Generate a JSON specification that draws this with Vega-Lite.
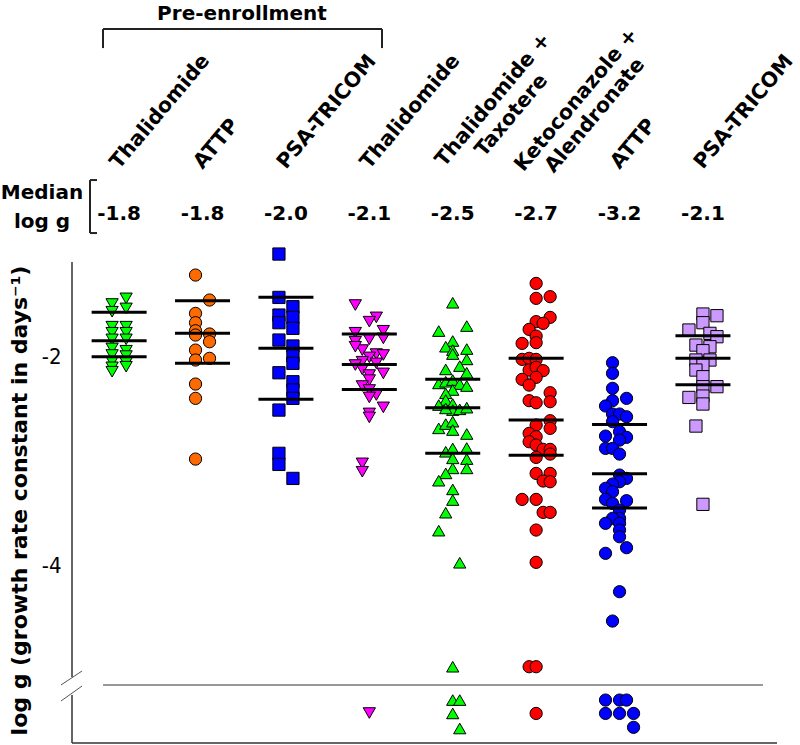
{
"$schema":"https://vega.github.io/schema/vega-lite/v6.json",
"width":705,"height":745,
"autosize":{"type":"none"},
"padding":{"left":72,"top":0,"right":23,"bottom":0},
"background":"white",
"config":{"view":{"stroke":null},"font":"DejaVu Sans"},
"resolve":{"axis":{"x":"independent","y":"independent"}},
"datasets":{
"one":[{}],
"groups":[
{"g":1,"label":"Thalidomide","med":"-1.8"},
{"g":2,"label":"ATTP","med":"-1.8"},
{"g":3,"label":"PSA-TRICOM","med":"-2.0"},
{"g":4,"label":"Thalidomide","med":"-2.1"},
{"g":5,"label":["Thalidomide +","Taxotere"],"med":"-2.5"},
{"g":6,"label":["Ketoconazole +","Alendronate"],"med":"-2.7"},
{"g":7,"label":"ATTP","med":"-3.2"},
{"g":8,"label":"PSA-TRICOM","med":"-2.1"}
],
"lines":[
{"g":1,"v":-1.582},{"g":1,"v":-1.853},{"g":1,"v":-2.006},
{"g":2,"v":-1.471},{"g":2,"v":-1.783},{"g":2,"v":-2.070},
{"g":3,"v":-1.438},{"g":3,"v":-1.926},{"g":3,"v":-2.414},
{"g":4,"v":-1.789},{"g":4,"v":-2.080},{"g":4,"v":-2.319},
{"g":5,"v":-2.223},{"g":5,"v":-2.494},{"g":5,"v":-2.931},
{"g":6,"v":-2.022},{"g":6,"v":-2.612},{"g":6,"v":-2.950},
{"g":7,"v":-2.654},{"g":7,"v":-3.126},{"g":7,"v":-3.455},
{"g":8,"v":-1.806},{"g":8,"v":-2.022},{"g":8,"v":-2.275}
],
"points":[
{"g":1,"s":-1,"v":-1.502},{"g":1,"s":-1,"v":-1.576},{"g":1,"s":-1,"v":-1.719},{"g":1,"s":-1,"v":-1.777},{"g":1,"s":-1,"v":-1.840},{"g":1,"s":-1,"v":-1.927},{"g":1,"s":-1,"v":-1.990},{"g":1,"s":-1,"v":-2.054},{"g":1,"s":-1,"v":-2.108},{"g":1,"s":-1,"v":-2.150},
{"g":1,"s":1,"v":-1.448},{"g":1,"s":1,"v":-1.544},{"g":1,"s":1,"v":-1.719},{"g":1,"s":1,"v":-1.777},{"g":1,"s":1,"v":-1.840},{"g":1,"s":1,"v":-1.949},{"g":1,"s":1,"v":-2.000},{"g":1,"s":1,"v":-2.064},{"g":1,"s":1,"v":-2.102},
{"g":2,"s":-1,"v":-1.225},{"g":2,"s":-1,"v":-1.592},{"g":2,"s":-1,"v":-1.681},{"g":2,"s":-1,"v":-1.758},{"g":2,"s":-1,"v":-1.799},{"g":2,"s":-1,"v":-1.943},{"g":2,"s":-1,"v":-2.038},{"g":2,"s":-1,"v":-2.268},{"g":2,"s":-1,"v":-2.405},{"g":2,"s":-1,"v":-2.986},
{"g":2,"s":1,"v":-1.464},{"g":2,"s":1,"v":-1.789},{"g":2,"s":1,"v":-1.863},{"g":2,"s":1,"v":-2.022},
{"g":3,"s":-1,"v":-1.024},{"g":3,"s":-1,"v":-1.439},{"g":3,"s":-1,"v":-1.608},{"g":3,"s":-1,"v":-1.681},{"g":3,"s":-1,"v":-1.847},{"g":3,"s":-1,"v":-2.160},{"g":3,"s":-1,"v":-2.517},{"g":3,"s":-1,"v":-2.931},{"g":3,"s":-1,"v":-3.037},
{"g":3,"s":1,"v":-1.528},{"g":3,"s":1,"v":-1.630},{"g":3,"s":1,"v":-1.735},{"g":3,"s":1,"v":-1.904},{"g":3,"s":1,"v":-2.000},{"g":3,"s":1,"v":-2.070},{"g":3,"s":1,"v":-2.246},{"g":3,"s":1,"v":-2.325},{"g":3,"s":1,"v":-2.405},{"g":3,"s":1,"v":-3.171},
{"g":4,"s":-2,"v":-1.512},{"g":4,"s":1,"v":-1.630},{"g":4,"s":0,"v":-1.671},{"g":4,"s":2,"v":-1.758},{"g":4,"s":-2,"v":-1.777},{"g":4,"s":0,"v":-1.840},{"g":4,"s":-2,"v":-1.863},{"g":4,"s":2,"v":-1.831},{"g":4,"s":-1,"v":-1.943},{"g":4,"s":-2,"v":-1.911},{"g":4,"s":1,"v":-1.981},{"g":4,"s":2,"v":-1.990},{"g":4,"s":0,"v":-2.013},{"g":4,"s":-1,"v":-2.054},{"g":4,"s":-2,"v":-2.086},{"g":4,"s":1,"v":-2.070},{"g":4,"s":-1,"v":-2.128},{"g":4,"s":0,"v":-2.182},{"g":4,"s":2,"v":-2.166},{"g":4,"s":0,"v":-2.230},{"g":4,"s":-1,"v":-2.287},{"g":4,"s":0,"v":-2.325},{"g":4,"s":1,"v":-2.373},{"g":4,"s":0,"v":-2.396},{"g":4,"s":2,"v":-2.491},{"g":4,"s":0,"v":-2.549},{"g":4,"s":0,"v":-2.587},{"g":4,"s":-1,"v":-3.027},{"g":4,"s":-1,"v":-3.107},{"g":4,"s":0,"v":-5.416},
{"g":5,"s":0,"v":-1.490},{"g":5,"s":-2,"v":-1.761},{"g":5,"s":2,"v":-1.713},{"g":5,"s":0,"v":-1.856},{"g":5,"s":-1,"v":-1.911},{"g":5,"s":0,"v":-1.943},{"g":5,"s":2,"v":-1.933},{"g":5,"s":0,"v":-1.981},{"g":5,"s":2,"v":-2.032},{"g":5,"s":1,"v":-2.096},{"g":5,"s":-1,"v":-2.128},{"g":5,"s":2,"v":-2.160},{"g":5,"s":-2,"v":-2.262},{"g":5,"s":-1,"v":-2.246},{"g":5,"s":0,"v":-2.230},{"g":5,"s":1,"v":-2.268},{"g":5,"s":2,"v":-2.287},{"g":5,"s":0,"v":-2.325},{"g":5,"s":-1,"v":-2.357},{"g":5,"s":-1,"v":-2.421},{"g":5,"s":-2,"v":-2.469},{"g":5,"s":0,"v":-2.459},{"g":5,"s":0,"v":-2.517},{"g":5,"s":1,"v":-2.510},{"g":5,"s":2,"v":-2.494},{"g":5,"s":-1,"v":-2.501},{"g":5,"s":-2,"v":-2.692},{"g":5,"s":-1,"v":-2.651},{"g":5,"s":0,"v":-2.628},{"g":5,"s":0,"v":-2.708},{"g":5,"s":2,"v":-2.746},{"g":5,"s":-1,"v":-2.916},{"g":5,"s":0,"v":-2.884},{"g":5,"s":2,"v":-2.880},{"g":5,"s":0,"v":-2.979},{"g":5,"s":2,"v":-2.986},{"g":5,"s":0,"v":-3.075},{"g":5,"s":2,"v":-3.075},{"g":5,"s":-1,"v":-3.123},{"g":5,"s":-2,"v":-3.193},{"g":5,"s":0,"v":-3.276},{"g":5,"s":0,"v":-3.378},{"g":5,"s":-1,"v":-3.499},{"g":5,"s":-2,"v":-3.671},{"g":5,"s":1,"v":-3.978},{"g":5,"s":0,"v":-4.973},{"g":5,"s":0,"v":-5.292},{"g":5,"s":1,"v":-5.292},{"g":5,"s":0,"v":-5.420},{"g":5,"s":1,"v":-5.564},
{"g":6,"s":0,"v":-1.305},{"g":6,"s":0,"v":-1.448},{"g":6,"s":2,"v":-1.432},{"g":6,"s":2,"v":-1.630},{"g":6,"s":0,"v":-1.671},{"g":6,"s":1,"v":-1.687},{"g":6,"s":-1,"v":-1.745},{"g":6,"s":0,"v":-1.809},{"g":6,"s":-2,"v":-1.879},{"g":6,"s":0,"v":-1.872},{"g":6,"s":-2,"v":-2.032},{"g":6,"s":-1,"v":-2.022},{"g":6,"s":0,"v":-2.032},{"g":6,"s":-1,"v":-2.134},{"g":6,"s":0,"v":-2.108},{"g":6,"s":1,"v":-2.140},{"g":6,"s":-2,"v":-2.223},{"g":6,"s":0,"v":-2.204},{"g":6,"s":-1,"v":-2.278},{"g":6,"s":2,"v":-2.351},{"g":6,"s":-1,"v":-2.427},{"g":6,"s":0,"v":-2.447},{"g":6,"s":2,"v":-2.437},{"g":6,"s":2,"v":-2.619},{"g":6,"s":0,"v":-2.660},{"g":6,"s":2,"v":-2.692},{"g":6,"s":-1,"v":-2.740},{"g":6,"s":0,"v":-2.772},{"g":6,"s":-1,"v":-2.820},{"g":6,"s":0,"v":-2.852},{"g":6,"s":1,"v":-2.893},{"g":6,"s":2,"v":-2.893},{"g":6,"s":0,"v":-2.970},{"g":6,"s":2,"v":-2.938},{"g":6,"s":0,"v":-3.123},{"g":6,"s":2,"v":-3.123},{"g":6,"s":1,"v":-3.196},{"g":6,"s":2,"v":-3.203},{"g":6,"s":-2,"v":-3.372},{"g":6,"s":0,"v":-3.372},{"g":6,"s":1,"v":-3.496},{"g":6,"s":2,"v":-3.496},{"g":6,"s":0,"v":-3.665},{"g":6,"s":0,"v":-3.974},{"g":6,"s":-1,"v":-4.973},{"g":6,"s":0,"v":-4.973},{"g":6,"s":0,"v":-5.420},
{"g":7,"s":-1,"v":-2.064},{"g":7,"s":-1,"v":-2.166},{"g":7,"s":-1,"v":-2.309},{"g":7,"s":1,"v":-2.405},{"g":7,"s":-1,"v":-2.427},{"g":7,"s":-2,"v":-2.478},{"g":7,"s":-1,"v":-2.555},{"g":7,"s":0,"v":-2.555},{"g":7,"s":1,"v":-2.581},{"g":7,"s":-1,"v":-2.628},{"g":7,"s":0,"v":-2.724},{"g":7,"s":-2,"v":-2.766},{"g":7,"s":1,"v":-2.778},{"g":7,"s":0,"v":-2.804},{"g":7,"s":-2,"v":-2.884},{"g":7,"s":-1,"v":-2.884},{"g":7,"s":0,"v":-2.938},{"g":7,"s":0,"v":-3.139},{"g":7,"s":1,"v":-3.171},{"g":7,"s":0,"v":-3.203},{"g":7,"s":-1,"v":-3.225},{"g":7,"s":-2,"v":-3.266},{"g":7,"s":-1,"v":-3.298},{"g":7,"s":-2,"v":-3.372},{"g":7,"s":1,"v":-3.384},{"g":7,"s":-1,"v":-3.410},{"g":7,"s":0,"v":-3.474},{"g":7,"s":0,"v":-3.553},{"g":7,"s":-1,"v":-3.553},{"g":7,"s":-2,"v":-3.601},{"g":7,"s":0,"v":-3.601},{"g":7,"s":0,"v":-3.665},{"g":7,"s":0,"v":-3.729},{"g":7,"s":1,"v":-3.834},{"g":7,"s":-2,"v":-3.888},{"g":7,"s":0,"v":-4.255},{"g":7,"s":-1,"v":-4.536},{"g":7,"s":-2,"v":-5.292},{"g":7,"s":0,"v":-5.292},{"g":7,"s":1,"v":-5.292},{"g":7,"s":-2,"v":-5.420},{"g":7,"s":0,"v":-5.420},{"g":7,"s":2,"v":-5.420},{"g":7,"s":2,"v":-5.553},
{"g":8,"s":0,"v":-1.598},{"g":8,"s":2,"v":-1.614},{"g":8,"s":0,"v":-1.681},{"g":8,"s":-2,"v":-1.751},{"g":8,"s":1,"v":-1.783},{"g":8,"s":2,"v":-1.815},{"g":8,"s":-1,"v":-1.895},{"g":8,"s":1,"v":-1.911},{"g":8,"s":0,"v":-1.949},{"g":8,"s":-1,"v":-2.038},{"g":8,"s":1,"v":-2.038},{"g":8,"s":0,"v":-2.086},{"g":8,"s":-1,"v":-2.134},{"g":8,"s":0,"v":-2.198},{"g":8,"s":0,"v":-2.293},{"g":8,"s":2,"v":-2.293},{"g":8,"s":-2,"v":-2.396},{"g":8,"s":0,"v":-2.383},{"g":8,"s":0,"v":-2.459},{"g":8,"s":-1,"v":-2.670},{"g":8,"s":0,"v":-3.419}
]
},
"layer":[
{"data":{"name":"points"},
 "transform":[{"calculate":"datum.g + datum.s * 0.084","as":"xp"}],
 "mark":{"type":"point","filled":true,"size":150,"stroke":"black","strokeWidth":1,"opacity":1,"fillOpacity":1},
 "encoding":{
  "x":{"field":"xp","type":"quantitative","scale":{"domain":[0.435,8.888],"nice":false,"zero":false},"axis":null},
  "y":{"field":"v","type":"quantitative","scale":{"domain":[-5.722,1.407],"nice":false,"zero":false},
       "axis":{"orient":"left","values":[-2,-4],"domain":false,"ticks":false,"grid":false,"labelFont":"Liberation Sans Narrow, DejaVu Sans Condensed, sans-serif","labelFontSize":22,"labelColor":"#000","labelPadding":11,"labelExpr":"replace(datum.label,'−','-')",
               "title":"log g (growth rate constant in days⁻¹)","titleFont":"DejaVu Sans","titleFontSize":22,"titleFontWeight":"bold","titleColor":"#000","titleAngle":270,"titleAlign":"center","titleBaseline":"middle","titleX":-53,"titleY":500}},
  "fill":{"field":"g","type":"nominal","scale":{"domain":[1,2,3,4,5,6,7,8],"range":["#00ff00","#ff6a00","#0000ff","#ff00ff","#00ff00","#ff0000","#0000ff","#cc99ff"]},"legend":null},
  "shape":{"field":"g","type":"nominal","scale":{"domain":[1,2,3,4,5,6,7,8],"range":["triangle-down","circle","square","triangle-down","triangle-up","circle","circle","square"]},"legend":null}
 }},
{"data":{"name":"lines"},
 "mark":{"type":"tick","orient":"horizontal","size":55,"thickness":3,"color":"black","opacity":1},
 "encoding":{
  "x":{"field":"g","type":"quantitative","scale":{"domain":[0.435,8.888],"nice":false,"zero":false},"axis":null},
  "y":{"field":"v","type":"quantitative","scale":{"domain":[-5.722,1.407],"nice":false,"zero":false},"axis":null}
 }},
{"data":{"name":"groups"},"transform":[{"filter":"!isArray(datum.label)"}],
 "mark":{"type":"text","angle":-50,"align":"left","baseline":"alphabetic","font":"DejaVu Sans","fontWeight":"bold","fontSize":20.5,"color":"black"},
 "encoding":{
  "x":{"field":"g","type":"quantitative","scale":{"domain":[0.435,8.888],"nice":false,"zero":false},"axis":null},
  "y":{"datum":-0.220,"type":"quantitative","scale":{"domain":[-5.722,1.407],"nice":false,"zero":false},"axis":null},
  "text":{"field":"label"}
 }},
{"data":{"name":"groups"},"transform":[{"filter":"isArray(datum.label)"}],
 "mark":{"type":"text","angle":-50,"align":"center","baseline":"middle","dx":26,"dy":31,"lineHeight":24,"font":"DejaVu Sans","fontWeight":"bold","fontSize":20.5,"color":"black"},
 "encoding":{
  "x":{"field":"g","type":"quantitative","scale":{"domain":[0.435,8.888],"nice":false,"zero":false},"axis":null},
  "y":{"datum":0.450,"type":"quantitative","scale":{"domain":[-5.722,1.407],"nice":false,"zero":false},"axis":null},
  "text":{"field":"label"}
 }},
{"data":{"name":"groups"},
 "mark":{"type":"text","align":"center","baseline":"alphabetic","font":"DejaVu Sans","fontWeight":"bold","fontSize":20,"color":"black"},
 "encoding":{
  "x":{"field":"g","type":"quantitative","scale":{"domain":[0.435,8.888],"nice":false,"zero":false},"axis":null},
  "y":{"datum":-0.699,"type":"quantitative","scale":{"domain":[-5.722,1.407],"nice":false,"zero":false},"axis":null},
  "text":{"field":"med"}
 }},
{"data":{"name":"one"},
 "mark":{"type":"text","align":"center","baseline":"alphabetic","lineHeight":29,"font":"DejaVu Sans","fontWeight":"bold","fontSize":20,"color":"black","text":["Median","log g"]},
 "encoding":{
  "x":{"datum":0.075,"type":"quantitative","scale":{"domain":[0.435,8.888],"nice":false,"zero":false},"axis":null},
  "y":{"datum":-0.498,"type":"quantitative","scale":{"domain":[-5.722,1.407],"nice":false,"zero":false},"axis":null}
 }},
{"data":{"name":"one"},
 "mark":{"type":"text","align":"center","baseline":"alphabetic","font":"DejaVu Sans","fontWeight":"bold","fontSize":20,"color":"black","text":"Pre-enrollment"},
 "encoding":{
  "x":{"datum":2.473,"type":"quantitative","scale":{"domain":[0.435,8.888],"nice":false,"zero":false},"axis":null},
  "y":{"datum":1.220,"type":"quantitative","scale":{"domain":[-5.722,1.407],"nice":false,"zero":false},"axis":null}
 }},
{"data":{"name":"one"},"mark":{"type":"rule","color":"#333","strokeWidth":1.5},
 "encoding":{"x":{"datum":0.435,"type":"quantitative","scale":{"domain":[0.435,8.888],"nice":false,"zero":false},"axis":null},
  "y":{"datum":-1.100,"type":"quantitative","scale":{"domain":[-5.722,1.407],"nice":false,"zero":false},"axis":null},"y2":{"datum":-5.072}}},
{"data":{"name":"one"},"mark":{"type":"rule","color":"#333","strokeWidth":1.5},
 "encoding":{"x":{"datum":0.435,"type":"quantitative","scale":{"domain":[0.435,8.888],"nice":false,"zero":false},"axis":null},
  "y":{"datum":-5.244,"type":"quantitative","scale":{"domain":[-5.722,1.407],"nice":false,"zero":false},"axis":null},"y2":{"datum":-5.703}}},
{"data":{"name":"one"},"mark":{"type":"rule","color":"#555","strokeWidth":1},
 "encoding":{"x":{"datum":0.303,"type":"quantitative","scale":{"domain":[0.435,8.888],"nice":false,"zero":false},"axis":null},"x2":{"datum":0.555},
  "y":{"datum":-5.148,"type":"quantitative","scale":{"domain":[-5.722,1.407],"nice":false,"zero":false},"axis":null},"y2":{"datum":-5.014}}},
{"data":{"name":"one"},"mark":{"type":"rule","color":"#555","strokeWidth":1},
 "encoding":{"x":{"datum":0.303,"type":"quantitative","scale":{"domain":[0.435,8.888],"nice":false,"zero":false},"axis":null},"x2":{"datum":0.555},
  "y":{"datum":-5.301,"type":"quantitative","scale":{"domain":[-5.722,1.407],"nice":false,"zero":false},"axis":null},"y2":{"datum":-5.158}}},
{"data":{"name":"one"},"mark":{"type":"rule","color":"#333","strokeWidth":1.5},
 "encoding":{"x":{"datum":0.435,"type":"quantitative","scale":{"domain":[0.435,8.888],"nice":false,"zero":false},"axis":null},"x2":{"datum":8.888},
  "y":{"datum":-5.703,"type":"quantitative","scale":{"domain":[-5.722,1.407],"nice":false,"zero":false},"axis":null}}},
{"data":{"name":"one"},"mark":{"type":"rule","color":"#333","strokeWidth":1.2},
 "encoding":{"x":{"datum":0.807,"type":"quantitative","scale":{"domain":[0.435,8.888],"nice":false,"zero":false},"axis":null},"x2":{"datum":8.720},
  "y":{"datum":-5.148,"type":"quantitative","scale":{"domain":[-5.722,1.407],"nice":false,"zero":false},"axis":null}}},
{"data":{"name":"one"},"mark":{"type":"rule","color":"#222","strokeWidth":2},
 "encoding":{"x":{"datum":0.807,"type":"quantitative","scale":{"domain":[0.435,8.888],"nice":false,"zero":false},"axis":null},"x2":{"datum":4.152},
  "y":{"datum":1.129,"type":"quantitative","scale":{"domain":[-5.722,1.407],"nice":false,"zero":false},"axis":null}}},
{"data":{"name":"one"},"mark":{"type":"rule","color":"#222","strokeWidth":2},
 "encoding":{"x":{"datum":0.807,"type":"quantitative","scale":{"domain":[0.435,8.888],"nice":false,"zero":false},"axis":null},
  "y":{"datum":1.129,"type":"quantitative","scale":{"domain":[-5.722,1.407],"nice":false,"zero":false},"axis":null},"y2":{"datum":0.947}}},
{"data":{"name":"one"},"mark":{"type":"rule","color":"#222","strokeWidth":2},
 "encoding":{"x":{"datum":4.152,"type":"quantitative","scale":{"domain":[0.435,8.888],"nice":false,"zero":false},"axis":null},
  "y":{"datum":1.129,"type":"quantitative","scale":{"domain":[-5.722,1.407],"nice":false,"zero":false},"axis":null},"y2":{"datum":0.947}}},
{"data":{"name":"one"},"mark":{"type":"rule","color":"#222","strokeWidth":2},
 "encoding":{"x":{"datum":0.651,"type":"quantitative","scale":{"domain":[0.435,8.888],"nice":false,"zero":false},"axis":null},
  "y":{"datum":-0.316,"type":"quantitative","scale":{"domain":[-5.722,1.407],"nice":false,"zero":false},"axis":null},"y2":{"datum":-0.823}}},
{"data":{"name":"one"},"mark":{"type":"rule","color":"#222","strokeWidth":2},
 "encoding":{"x":{"datum":0.651,"type":"quantitative","scale":{"domain":[0.435,8.888],"nice":false,"zero":false},"axis":null},"x2":{"datum":0.735},
  "y":{"datum":-0.316,"type":"quantitative","scale":{"domain":[-5.722,1.407],"nice":false,"zero":false},"axis":null}}},
{"data":{"name":"one"},"mark":{"type":"rule","color":"#222","strokeWidth":2},
 "encoding":{"x":{"datum":0.651,"type":"quantitative","scale":{"domain":[0.435,8.888],"nice":false,"zero":false},"axis":null},"x2":{"datum":0.735},
  "y":{"datum":-0.823,"type":"quantitative","scale":{"domain":[-5.722,1.407],"nice":false,"zero":false},"axis":null}}}
]
}
